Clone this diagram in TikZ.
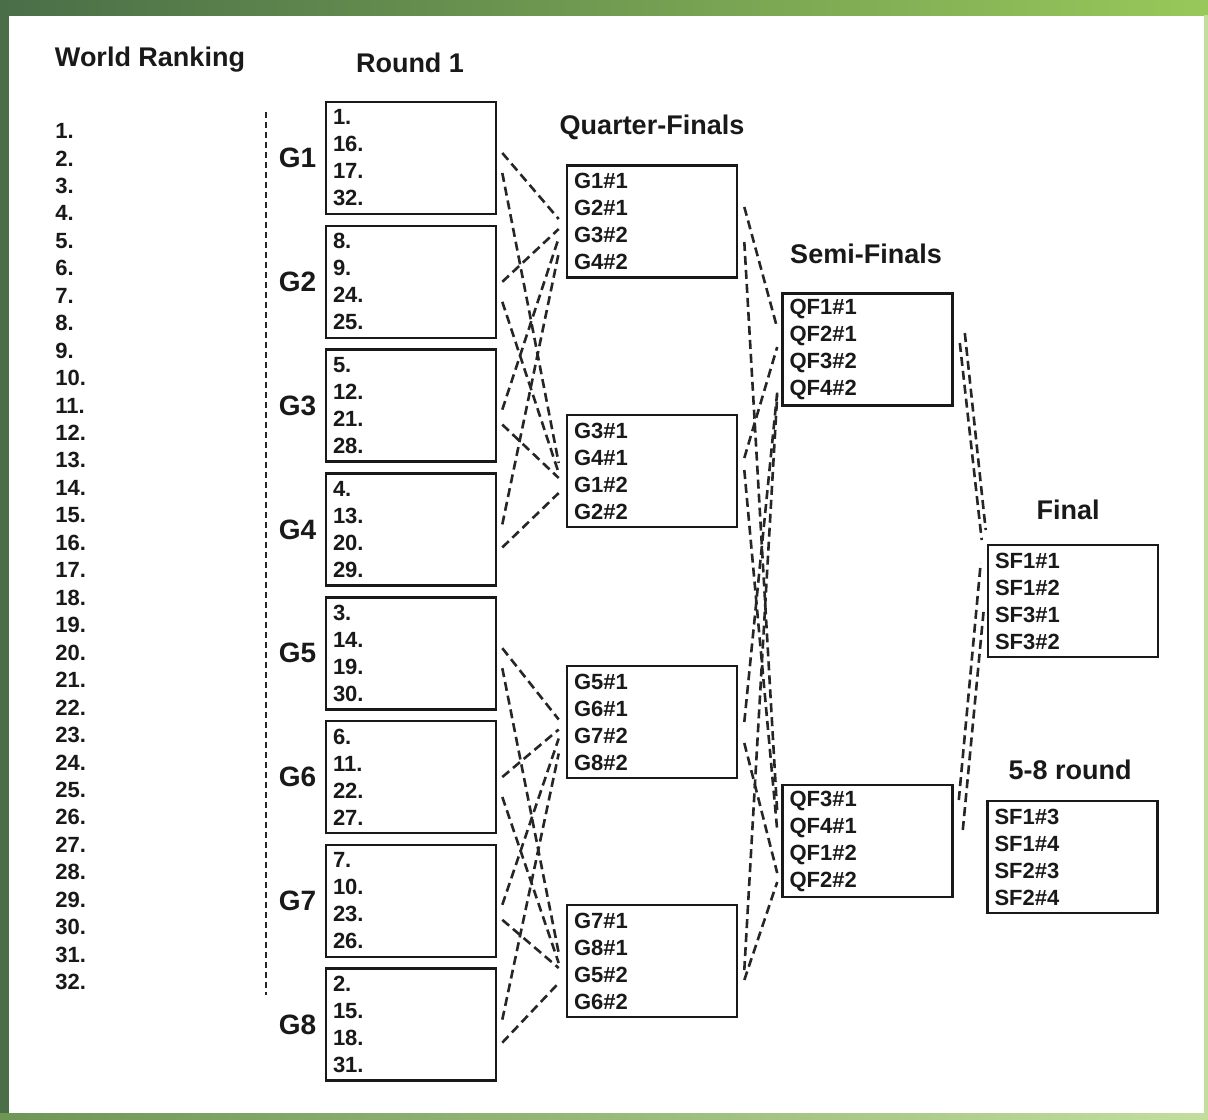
\documentclass[tikz,border=0pt]{standalone}
\usepackage{fontspec}
\setmainfont{Liberation Sans}
\usepackage{xcolor}
\usetikzlibrary{positioning, calc}

\definecolor{frameDark}{RGB}{74,110,72}
\definecolor{frameMid}{RGB}{110,150,85}
\definecolor{frameLight}{RGB}{152,200,90}

\begin{document}
\begin{tikzpicture}[x=0.5pt, y=-0.5pt,
    box/.style={rectangle, draw=black!90, line width=1.3pt, minimum width=85pt, minimum height=56pt, text width=78pt, inner xsep=3.5pt, inner ysep=1pt, align=left, text=black!90, font=\bfseries\fontsize{11}{13.5}\selectfont},
    title/.style={text=black!90, font=\bfseries\fontsize{13.5}{16}\selectfont},
    glabel/.style={inner sep=0pt, text=black!90, font=\bfseries\fontsize{14}{16}\selectfont},
    rank/.style={anchor=west, inner sep=0pt, text=black!90, font=\bfseries\fontsize{11}{13}\selectfont},
    link/.style={dash pattern=on 4.5pt off 2.5pt, line width=1.3pt, black!85},
]
\useasboundingbox (0,0) rectangle (1208,1119);

% frame
\fill[white] (0,0) rectangle (1208,1119);
\shade[left color=frameDark, right color=frameLight] (0,0) rectangle (1208,15);
\fill[frameDark] (0,0) rectangle (9,1119);
\shade[left color=frameMid, right color=frameLight!60] (0,1113) rectangle (1208,1119);
\fill[frameLight!60] (1204,15) rectangle (1208,1119);

% titles
\node[title] (tRank) at (150,60) {World Ranking};
\node[title] (tR1) at (410,63) {Round 1};
\node[title] (tQF) at (652,127) {Quarter-Finals};
\node[title] (tSF) at (866,254) {Semi-Finals};
\node[title] (tFin) at (1068,510) {Final};
\node[title] (tCons) at (1070,770) {5-8 round};

% world ranking
\foreach \i in {1,...,32}
    \node[rank] (r\i) at (55,{131+27.45*(\i-1)}) {\i.};
\draw[dash pattern=on 3pt off 2pt, line width=1pt, black!85] (266,112) -- (266,995);

% round 1 groups
\foreach \i/\txt in {1/{1.\\16.\\17.\\32.}, 2/{8.\\9.\\24.\\25.}, 3/{5.\\12.\\21.\\28.}, 4/{4.\\13.\\20.\\29.},
                     5/{3.\\14.\\19.\\30.}, 6/{6.\\11.\\22.\\27.}, 7/{7.\\10.\\23.\\26.}, 8/{2.\\15.\\18.\\31.}} {
    \node[box] (g\i) at (411,{158+123.8*(\i-1)}) {\txt};
    \node[glabel, left=4pt of g\i] (gl\i) {G\i};
}

% quarter-finals
\node[box] (qf1) at (652,221.5) {G1\#1\\G2\#1\\G3\#2\\G4\#2};
\node[box] (qf2) at (652,471) {G3\#1\\G4\#1\\G1\#2\\G2\#2};
\node[box] (qf3) at (652,722) {G5\#1\\G6\#1\\G7\#2\\G8\#2};
\node[box] (qf4) at (652,961) {G7\#1\\G8\#1\\G5\#2\\G6\#2};

% semi-finals
\node[box] (sf1) at (867.5,349.5) {QF1\#1\\QF2\#1\\QF3\#2\\QF4\#2};
\node[box] (sf2) at (867.5,841) {QF3\#1\\QF4\#1\\QF1\#2\\QF2\#2};

% final and 5-8 round
\node[box] (fin) at (1073,601) {SF1\#1\\SF1\#2\\SF3\#1\\SF3\#2};
\node[box] (cons) at (1072.5,857) {SF1\#3\\SF1\#4\\SF2\#3\\SF2\#4};

% round 1 -> quarter-finals
\foreach \b in {0,1} {
    \foreach \g/\s/\q/\e in {1/-5/1/-2.5, 1/15/2/-8, 2/0/1/7.5, 2/20/2/2,
                             3/4/1/16.5, 3/19/2/7, 4/-5/1/31.5, 4/18/2/22} {
        \pgfmathtruncatemacro\gi{\g+4*\b}
        \pgfmathtruncatemacro\qi{\q+2*\b}
        \draw[link] ($(g\gi.east)+(5,\s)$) -- ($(qf\qi.west)+(-7,\e)$);
    }
}

% quarter-finals -> semi-finals
\foreach \q/\s/\f/\e in {1/-14.5/1/-21.5, 1/20.5/2/-29, 2/-13/1/-2.5, 2/-1/2/-11,
                         3/0/1/43, 3/21/2/32, 4/9/1/46, 4/19/2/41}
    \draw[link] ($(qf\q.east)+(6,\s)$) -- ($(sf\f.west)+(-4,\e)$);

% semi-finals -> final
\draw[link] ($(sf1.east)+(11,-16.5)$) -- ($(fin.west)+(-1,-71)$);
\draw[link] ($(sf1.east)+(6,-6.5)$) -- ($(fin.west)+(-5,-61)$);
\draw[link] ($(sf2.east)+(5,-41)$) -- ($(fin.west)+(-6,-38)$);
\draw[link] ($(sf2.east)+(9,-11)$) -- ($(fin.west)+(-3,9)$);
\end{tikzpicture}
\end{document}
